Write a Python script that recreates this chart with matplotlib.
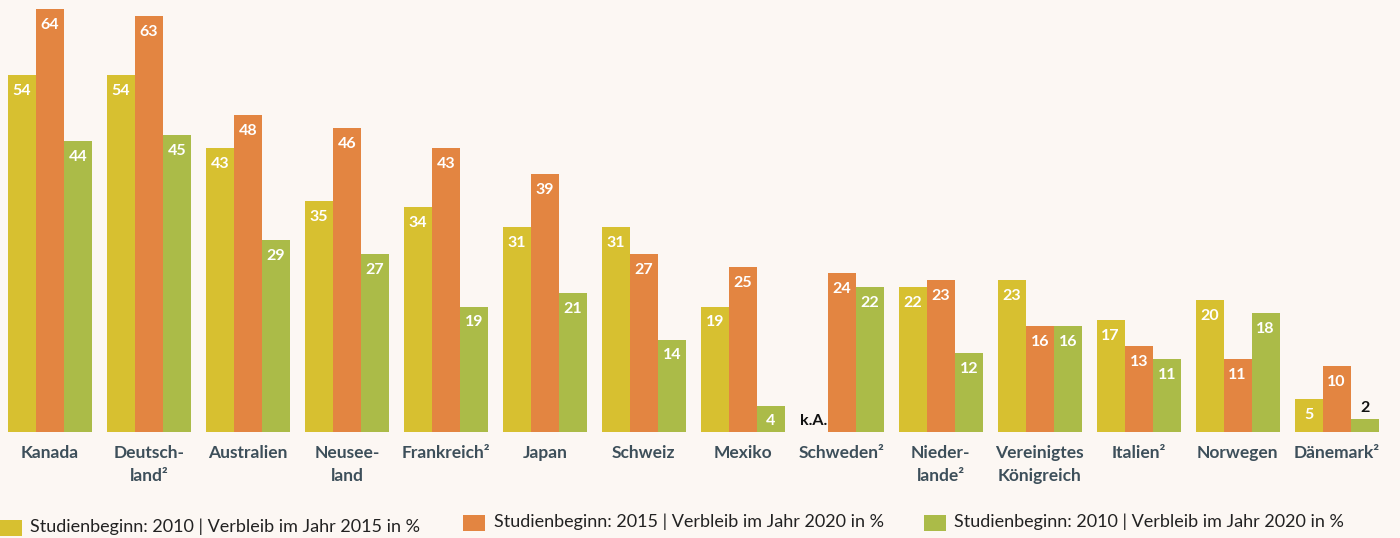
import numpy as np
import matplotlib.pyplot as plt
from matplotlib.patches import Rectangle

plt.rcParams['font.family'] = ['Lato', 'DejaVu Sans']

laender = ['Kanada', 'Deutsch-\nland²', 'Australien', 'Neusee-\nland', 'Frankreich²',
           'Japan', 'Schweiz', 'Mexiko', 'Schweden²', 'Nieder-\nlande²',
           'Vereinigtes\nKönigreich', 'Italien²', 'Norwegen', 'Dänemark²']
start2010_2015 = [54, 54, 43, 35, 34, 31, 31, 19, None, 22, 23, 17, 20, 5]
start2015_2020 = [64, 63, 48, 46, 43, 39, 27, 25, 24, 23, 16, 13, 11, 10]
start2010_2020 = [44, 45, 29, 27, 19, 21, 14, 4, 22, 12, 16, 11, 18, 2]

legende = ['Studienbeginn: 2010 | Verbleib im Jahr 2015 in %',
           'Studienbeginn: 2015 | Verbleib im Jahr 2020 in %',
           'Studienbeginn: 2010 | Verbleib im Jahr 2020 in %']
farben = ['#d7c030', '#e38541', '#abbb48']
bg = '#fcf7f3'
textfarbe = '#3d4f5a'

fig = plt.figure(figsize=(14, 5.38), dpi=100, facecolor=bg)
ax = fig.add_axes([0, 0.197, 1, 0.803])
ax.set_facecolor(bg)

x = np.arange(len(laender))
w = 0.283
serien = [start2010_2015, start2015_2020, start2010_2020]

for k, (werte, farbe) in enumerate(zip(serien, farben)):
    xs = x + (k - 1) * w
    for xi, v in zip(xs, werte):
        if v is None:
            ax.text(xi, 0.6, 'k.A.', ha='center', va='bottom', fontsize=11.5,
                    fontweight='bold', color='#111111')
            continue
        ax.bar(xi, v, width=w, color=farbe, linewidth=0)
        if v < 3:
            ax.text(xi, v + 0.6, str(v), ha='center', va='bottom', fontsize=11.5,
                    fontweight='bold', color='#111111')
        else:
            ax.text(xi, v - 2.4, str(v), ha='center', va='center', fontsize=11.5,
                    fontweight='bold', color='white')

ax.set_xlim(-0.505, 13.64)
ax.set_ylim(0, 65.4)
ax.set_yticks([])
ax.set_xticks(x)
ax.set_xticklabels(laender, fontsize=12.5, fontweight='bold', color=textfarbe,
                   linespacing=1.55, va='top')
ax.tick_params(axis='x', length=0, pad=9)
for s in ax.spines.values():
    s.set_visible(False)

# Legende
leg_x = [0.0, 0.331, 0.660]
leg_y = [0.004, 0.013, 0.013]
for lx, ly, farbe, txt in zip(leg_x, leg_y, farben, legende):
    fig.patches.append(Rectangle((lx, ly), 0.0157, 0.029, transform=fig.transFigure,
                                 color=farbe, linewidth=0))
    fig.text(lx + 0.0215, ly + 0.017, txt, fontsize=13, color='#222222', va='center')

fig.savefig('out.png', dpi=100, facecolor=bg)
